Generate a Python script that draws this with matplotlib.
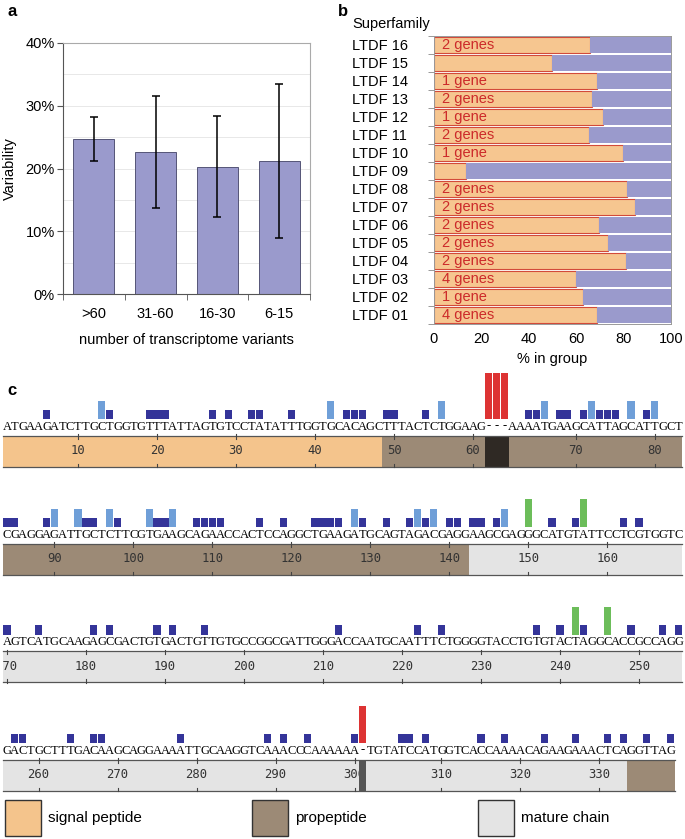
import matplotlib.pyplot as plt
import numpy as np
from matplotlib.patches import Rectangle
from matplotlib.ticker import MultipleLocator, FixedLocator

plt.rcParams['font.family'] = ['Liberation Sans', 'DejaVu Sans']
plt.rcParams['font.size'] = 10

# ---------------- data ----------------
# panel a
variant_groups = ['>60', '31-60', '16-30', '6-15']
variability = [24.7, 22.6, 20.3, 21.2]
variability_err = [3.5, 8.9, 8.0, 12.3]

# panel b (bottom -> top)
superfamilies = ['LTDF 01', 'LTDF 02', 'LTDF 03', 'LTDF 04', 'LTDF 05', 'LTDF 06',
                 'LTDF 07', 'LTDF 08', 'LTDF 09', 'LTDF 10', 'LTDF 11', 'LTDF 12',
                 'LTDF 13', 'LTDF 14', 'LTDF 15', 'LTDF 16']
pct_in_group = [68.6, 62.7, 59.9, 80.9, 73.6, 69.8, 84.7, 81.3,
                13.6, 79.9, 65.4, 71.2, 66.8, 68.9, 49.9, 65.8]
gene_labels = ['4 genes', '1 gene', '4 genes', '2 genes', '2 genes', '2 genes',
               '2 genes', '2 genes', '', '1 gene', '2 genes', '1 gene',
               '2 genes', '1 gene', '', '2 genes']

# panel c: aligned sequence, one string per display row ('-' = gap)
seq_rows = [
    "ATGAAGATCTTGCTGGTGTTTATTAGTGTCCTATATTTGGTGCACAGCTTTACTCTGGAAG---AAAATGAAGCATTAGCATTGCT",
    "CGAGGAGATTGCTCTTCGTGAAGCAGAACCACTCCAGGCTGAAGATGCAGTAGACGAGGAAGCGAGGGCATGTATTCCTCGTGGTC",
    "AGTCATGCAAGAGCGACTGTGACTGTTGTGCCGGCGATTGGGACCAATGCAATTTCTGGGGTACCTGTGTACTAGGCACCGCCAGG",
    "GACTGCTTTGACAAGCAGGAAAATTGCAAGGTCAAACCCAAAAAA-TGTATCCATGGTCACCAAAACAGAAGAAACTCAGGTTAG",
]
# variant counts per column (1-based column in each row)
var1_cols = [
    [6, 14, 19, 20, 21, 27, 29, 32, 33, 37, 44, 45, 46, 49, 50, 54, 67, 68, 71, 72, 74, 76, 77, 78, 82],
    [1, 2, 6, 11, 12, 15, 20, 21, 25, 26, 27, 28, 33, 36, 40, 41, 42, 43, 46, 49, 52, 54, 57, 58,
     60, 61, 63, 70, 73, 79, 81],
    [1, 5, 12, 14, 20, 22, 26, 43, 53, 56, 68, 71, 74, 80, 84, 86],
    [2, 3, 9, 12, 13, 23, 34, 36, 39, 45, 51, 52, 54, 61, 64, 69, 73, 77, 79, 82, 85],
]
var2_cols = [[13, 42, 56, 69, 75, 80, 83], [7, 10, 14, 19, 22, 45, 53, 55, 64], [], []]
var3_cols = [[], [67, 74], [73, 77], []]
indel_cols = [[62, 63, 64], [], [], [46]]
indel_count = [5, 0, 0, 4]

# region starts (nucleotide position, region)
region_start = [1, 49, 143, 334]
region_name = ['signal peptide', 'propeptide', 'mature chain', 'propeptide']
legend_names = ['signal peptide', 'propeptide', 'mature chain']

region_color = {'signal peptide': '#f4c48c', 'propeptide': '#9c8a76', 'mature chain': '#e4e4e4'}
gap_color = {'signal peptide': '#5a4630', 'propeptide': '#2f2924', 'mature chain': '#555555'}
var_color = {1: '#343499', 2: '#6f9fd8', 3: '#6cbd5a'}
INDEL_COLOR = '#dd3333'
BAR_BLUE = '#9a9acc'
BAR_ORANGE = '#f6c690'

W, H = 685, 839
fig = plt.figure(figsize=(W / 100, H / 100), dpi=100)


def px_axes(left, top, right, bottom):
    return fig.add_axes([left / W, 1 - bottom / H, (right - left) / W, (bottom - top) / H])


# ---------------- panel a ----------------
ax = px_axes(63, 43, 310, 294)
x = np.arange(len(variant_groups))
ax.bar(x, variability, width=0.66, color=BAR_BLUE, edgecolor='#555577', linewidth=0.7, zorder=2)
ax.errorbar(x, variability, yerr=variability_err, fmt='none', ecolor='black',
            elinewidth=1.1, capsize=3, capthick=1.1, zorder=3)
ax.set_xlim(-0.5, len(variant_groups) - 0.5)
ax.set_ylim(0, 40)
ax.set_yticks(np.arange(0, 41, 10))
ax.set_yticklabels([f"{v}%" for v in range(0, 41, 10)], fontsize=10.5)
ax.yaxis.set_minor_locator(MultipleLocator(5))
ax.grid(axis='y', which='both', color='#e8e8e8', linewidth=0.7, zorder=0)
ax.set_axisbelow(True)
ax.set_xticks(x)
ax.set_xticklabels(variant_groups, fontsize=10.5)
ax.xaxis.set_minor_locator(FixedLocator(np.arange(-0.5, len(variant_groups), 1)))
ax.tick_params(axis='x', which='major', length=0, pad=9)
ax.tick_params(axis='x', which='minor', length=4, color='#555')
ax.tick_params(axis='y', which='major', length=4, color='#555', pad=2)
ax.tick_params(axis='y', which='minor', length=0)
for s in ['left', 'bottom']:
    ax.spines[s].set_color('#555')
for s in ['top', 'right']:
    ax.spines[s].set_color('#aaa')
ax.set_ylabel('Variability', fontsize=10.5, labelpad=6)
ax.set_xlabel('number of transcriptome variants', fontsize=10.5, labelpad=9)
fig.text(12 / W, 1 - 12 / H, 'a', fontsize=12, fontweight='bold', va='center', ha='center')

# ---------------- panel b ----------------
ax = px_axes(434, 36, 671, 324)
y = np.arange(len(superfamilies))
rest = [100 - p for p in pct_in_group]
ax.barh(y, pct_in_group, height=0.86, color=BAR_ORANGE, edgecolor='#d24a3a', linewidth=0.8, zorder=2)
ax.barh(y, rest, left=pct_in_group, height=0.86, color=BAR_BLUE, linewidth=0, zorder=2)
for yi, lab in zip(y, gene_labels):
    if lab:
        ax.text(3.5, yi, lab, color='#cc2a2a', fontsize=10.5, va='center', ha='left', zorder=3)
ax.set_xlim(0, 100)
ax.set_ylim(-0.5, len(superfamilies) - 0.5)
ax.set_yticks(y)
ax.set_yticklabels(superfamilies, fontsize=10.5, ha='left')
ax.yaxis.set_minor_locator(FixedLocator(np.arange(-0.5, len(superfamilies), 1)))
ax.tick_params(axis='y', which='major', length=0, pad=59)
ax.tick_params(axis='y', which='minor', length=4, color='#888')
ax.set_xticks(np.arange(0, 101, 20))
ax.tick_params(axis='x', which='major', length=0, pad=6, labelsize=10.5)
for s in ax.spines.values():
    s.set_color('#999')
    s.set_linewidth(0.7)
ax.set_xlabel('% in group', fontsize=10.5, labelpad=4)
fig.text(352 / W, 1 - 24 / H, 'Superfamily', fontsize=10.5, va='center', ha='left')
fig.text(343 / W, 1 - 12 / H, 'b', fontsize=12, fontweight='bold', va='center', ha='center')

# ---------------- panel c ----------------
fig.text(12 / W, 1 - 390 / H, 'c', fontsize=12, fontweight='bold', va='center', ha='center')

COL_W = 7.9
X0 = 3
UNIT = 9.2
NCOL = 86
baselines = [419, 527, 634.5, 743]
BAND_TOP, BAND_BOT = -16.5, -47.5


def region_of(pos):
    r = region_name[0]
    for st, nm in zip(region_start, region_name):
        if pos >= st:
            r = nm
    return r


pos = 0
for r, seq in enumerate(seq_rows):
    ax = px_axes(X0, baselines[r] - 50, X0 + NCOL * COL_W, baselines[r] + 48)
    ax.set_xlim(0, NCOL)
    ax.set_ylim(-48, 50)
    ax.axis('off')

    # nucleotide positions for each column; gaps take the region of the preceding base
    col_pos, col_region = [], []
    for ch in seq:
        if ch != '-':
            pos += 1
            col_pos.append(pos)
        else:
            col_pos.append(None)
        col_region.append(region_of(pos))

    # band runs
    runs, cols, is_gap = [], [], []
    for c, ch in enumerate(seq):
        gap = ch == '-'
        color = gap_color[col_region[c]] if gap else region_color[col_region[c]]
        if runs and cols[-1] == color and is_gap[-1] == gap:
            runs[-1] = (runs[-1][0], runs[-1][1] + 1)
        else:
            runs.append((c, 1))
            cols.append(color)
            is_gap.append(gap)
    normal = [(rn, cl) for rn, cl, g in zip(runs, cols, is_gap) if not g]
    gaps = [(rn, cl) for rn, cl, g in zip(runs, cols, is_gap) if g]
    ax.broken_barh([rn for rn, _ in normal], (BAND_BOT, BAND_TOP - BAND_BOT),
                   facecolors=[cl for _, cl in normal], linewidth=0, zorder=1)
    if gaps:
        ax.broken_barh([rn for rn, _ in gaps], (BAND_BOT, BAND_TOP - BAND_BOT),
                       facecolors=[cl for _, cl in gaps], linewidth=0, zorder=5)
    ax.plot([0, len(seq)], [BAND_TOP, BAND_TOP], color='#555', lw=0.9, zorder=6, clip_on=False)
    ax.plot([0, len(seq)], [BAND_BOT, BAND_BOT], color='#555', lw=0.9, zorder=6, clip_on=False)

    # ticks and numbers
    for c, p in enumerate(col_pos):
        if p is not None and p % 10 == 0:
            xc = c + 0.5
            ax.plot([xc, xc], [BAND_TOP + 1.5, BAND_TOP - 3], color='#444', lw=0.8, zorder=6)
            ax.plot([xc, xc], [BAND_BOT - 0.5, BAND_BOT + 3], color='#444', lw=0.8, zorder=6, clip_on=False)
            ax.text(xc, (BAND_TOP + BAND_BOT) / 2, str(p), ha='center', va='center',
                    fontsize=8.8, family='DejaVu Sans Mono', color='#333', zorder=3, clip_on=True)

    # sequence letters
    for c, ch in enumerate(seq):
        ax.text(c + 0.5, -7.5, ch, ha='center', va='center', fontsize=9,
                family='Liberation Serif', color='#000')

    # variant marks
    for level, col_lists in [(1, var1_cols), (2, var2_cols), (3, var3_cols)]:
        cs = col_lists[r]
        if cs:
            ax.bar(np.array(cs) - 0.5, level * UNIT, width=0.92, bottom=0,
                   color=var_color[level], linewidth=0, zorder=2)
    if indel_cols[r]:
        ax.bar(np.array(indel_cols[r]) - 0.5, indel_count[r] * UNIT, width=0.92, bottom=0,
               color=INDEL_COLOR, linewidth=0, zorder=2)

# ---------------- legend ----------------
legend_x = [5, 252, 478]
for lx, nm in zip(legend_x, legend_names):
    fig.add_artist(Rectangle((lx / W, 1 - 836 / H), 36 / W, 36 / H, transform=fig.transFigure,
                             facecolor=region_color[nm], edgecolor='#333', linewidth=1))
    fig.text((lx + 43) / W, 1 - 818 / H, nm, fontsize=11, va='center', ha='left')

fig.savefig('out.png', dpi=100)
